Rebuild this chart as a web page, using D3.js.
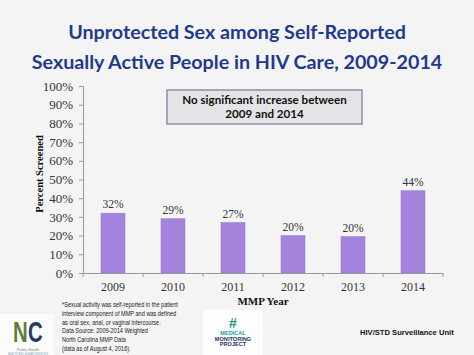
<!DOCTYPE html>
<html><head><meta charset="utf-8">
<script src="https://cdn.jsdelivr.net/npm/d3@7"></script>
<style>
html,body{margin:0;padding:0;background:#f4f4f4;}
svg{display:block;}
</style></head><body>
<script>
const years = ["2009","2010","2011","2012","2013","2014"];
const values = [32, 29, 27, 20, 19.5, 44];
const valueLabels = ["32%","29%","27%","20%","20%","44%"];
const yTicks = [0,10,20,30,40,50,60,70,80,90,100];
const titleLines = ["Unprotected Sex among Self-Reported","Sexually Active People in HIV Care, 2009-2014"];
const boxLines = ["No significant increase between","2009 and 2014"];
const footLines = ["*Sexual activity was self-reported in the patient","interview component of MMP and was defined","as oral sex, anal, or vaginal intercourse.","Data Source: 2009-2014 Weighted","North Carolina MMP Data","(data as of August 4, 2016)."];

const W=474,H=355;
const serif="'Liberation Serif','Times New Roman',serif";
const sans="'Liberation Sans',Arial,sans-serif";
const svg=d3.select("body").append("svg").attr("width",W).attr("height",H);
svg.append("rect").attr("width",W).attr("height",H).attr("fill","#f4f4f4");

// title
svg.append("g").selectAll("text").data(titleLines).join("text")
  .attr("x",237).attr("y",(d,i)=>39+i*30).attr("text-anchor","middle")
  .attr("font-family","Lato, 'Open Sans', sans-serif").attr("font-weight","bold")
  .attr("font-size",19.7).attr("fill","#1f3a8c").text(d=>d);

const m={l:83,r:443,t:86,b:273};
const x=d3.scaleBand().domain(years).range([m.l,m.r]).paddingInner(0.6).paddingOuter(0.3);
const y=d3.scaleLinear().domain([0,100]).range([m.b,m.t]);

// bars
svg.append("g").selectAll("rect").data(values).join("rect")
  .attr("x",(d,i)=>x(years[i])).attr("width",x.bandwidth())
  .attr("y",d=>y(d)).attr("height",d=>y(0)-y(d))
  .attr("fill","#a483dc").attr("stroke","#9572d2").attr("stroke-width",0.5);

svg.append("g").selectAll("text").data(values).join("text")
  .attr("x",(d,i)=>x(years[i])+x.bandwidth()/2).attr("y",d=>y(d)-5)
  .attr("text-anchor","middle").attr("font-family",serif)
  .attr("font-size",11.5).attr("fill","#333").text((d,i)=>valueLabels[i]);

// y axis
const yAxis=d3.axisLeft(y).tickValues(yTicks).tickFormat(d=>d+"%").tickSize(4).tickPadding(6);
const gy=svg.append("g").attr("transform",`translate(${m.l},0)`).call(yAxis);
gy.select(".domain").attr("stroke","#999");
gy.selectAll(".tick line").attr("stroke","#999");
gy.selectAll(".tick text").attr("font-family",serif).attr("font-size",13).attr("fill","#333");

// x axis
const xAxis=d3.axisBottom(x).tickSize(0).tickPadding(9.5);
const gx=svg.append("g").attr("transform",`translate(0,${m.b})`).call(xAxis);
gx.select(".domain").attr("stroke","#999");
gx.selectAll(".tick text").attr("font-family",serif).attr("font-size",12).attr("fill","#333");
gx.append("g").selectAll("line").data(d3.range(years.length+1)).join("line")
  .attr("x1",i=>m.l+i*((m.r-m.l)/years.length)).attr("x2",i=>m.l+i*((m.r-m.l)/years.length))
  .attr("y1",0).attr("y2",4).attr("stroke","#999");

// axis titles
svg.append("text").attr("x",263).attr("y",304.5).attr("text-anchor","middle")
  .attr("font-family",serif).attr("font-weight","bold")
  .attr("font-size",11).attr("fill","#111").text("MMP Year");
svg.append("text").attr("transform","translate(43,174) rotate(-90)").attr("text-anchor","middle")
  .attr("font-family",serif).attr("font-weight","bold")
  .attr("font-size",10.5).attr("fill","#111").text("Percent Screened");

// annotation box
svg.append("rect").attr("x",167).attr("y",90).attr("width",195).attr("height",34)
  .attr("fill","#e4e4e6").attr("stroke","#8a90a8").attr("stroke-width",1.5);
svg.append("g").selectAll("text").data(boxLines).join("text")
  .attr("x",264.5).attr("y",(d,i)=>104+i*13.5).attr("text-anchor","middle")
  .attr("font-family","Lato, 'Open Sans', sans-serif").attr("font-weight","bold")
  .attr("font-size",11.6).attr("fill","#111").text(d=>d);

// footnote
const fg=svg.append("g").attr("transform","translate(62,0) scale(0.7,1)");
fg.selectAll("text").data(footLines).join("text")
  .attr("x",0).attr("y",(d,i)=>307+i*8.8)
  .attr("font-family",sans).attr("font-size",8).attr("fill","#222").text(d=>d);

// footer right
svg.append("text").attr("x",360).attr("y",335)
  .attr("font-family",sans).attr("font-weight","bold")
  .attr("font-size",7.6).attr("fill","#111").text("HIV/STD Surveillance Unit");

// NC logo
svg.append("rect").attr("x",0).attr("y",314).attr("width",54).attr("height",41).attr("fill","#fbfbfb");
svg.append("text").attr("x",0).attr("y",342).attr("font-family",sans)
  .attr("font-weight","bold").attr("font-size",30).attr("fill","#5b7f3a")
  .attr("transform","translate(13,0) scale(0.68,1)").text("N");
svg.append("text").attr("x",0).attr("y",342).attr("font-family",sans)
  .attr("font-weight","bold").attr("font-size",30).attr("fill","#243a5e")
  .attr("transform","translate(28,0) scale(0.68,1)").text("C");
svg.append("text").attr("x",28).attr("y",350.5).attr("text-anchor","middle").attr("font-family",sans)
  .attr("font-size",3.8).attr("fill","#888").text("Public Health");
svg.append("text").attr("x",28).attr("y",354.5).attr("text-anchor","middle").attr("font-family",sans)
  .attr("font-size",2.6).attr("fill","#8ab").text("HEALTH AND HUMAN SERVICES");

// MMP logo
svg.append("rect").attr("x",203).attr("y",310).attr("width",60).attr("height",45).attr("fill","#fdfdfd");
svg.append("text").attr("x",233).attr("y",327.5).attr("text-anchor","middle").attr("font-family",sans)
  .attr("font-weight","bold").attr("font-size",14).attr("fill","#2a9a8a").text("#");
const mm=[["MEDICAL","#2a9aa0"],["MONITORING","#1f3560"],["PROJECT","#1f3560"]];
svg.append("g").selectAll("text").data(mm).join("text")
  .attr("x",233).attr("y",(d,i)=>335+i*5.5).attr("text-anchor","middle")
  .attr("font-family",sans).attr("font-weight","bold")
  .attr("font-size",5.6).attr("fill",d=>d[1]).text(d=>d[0]);
</script>
</body></html>
